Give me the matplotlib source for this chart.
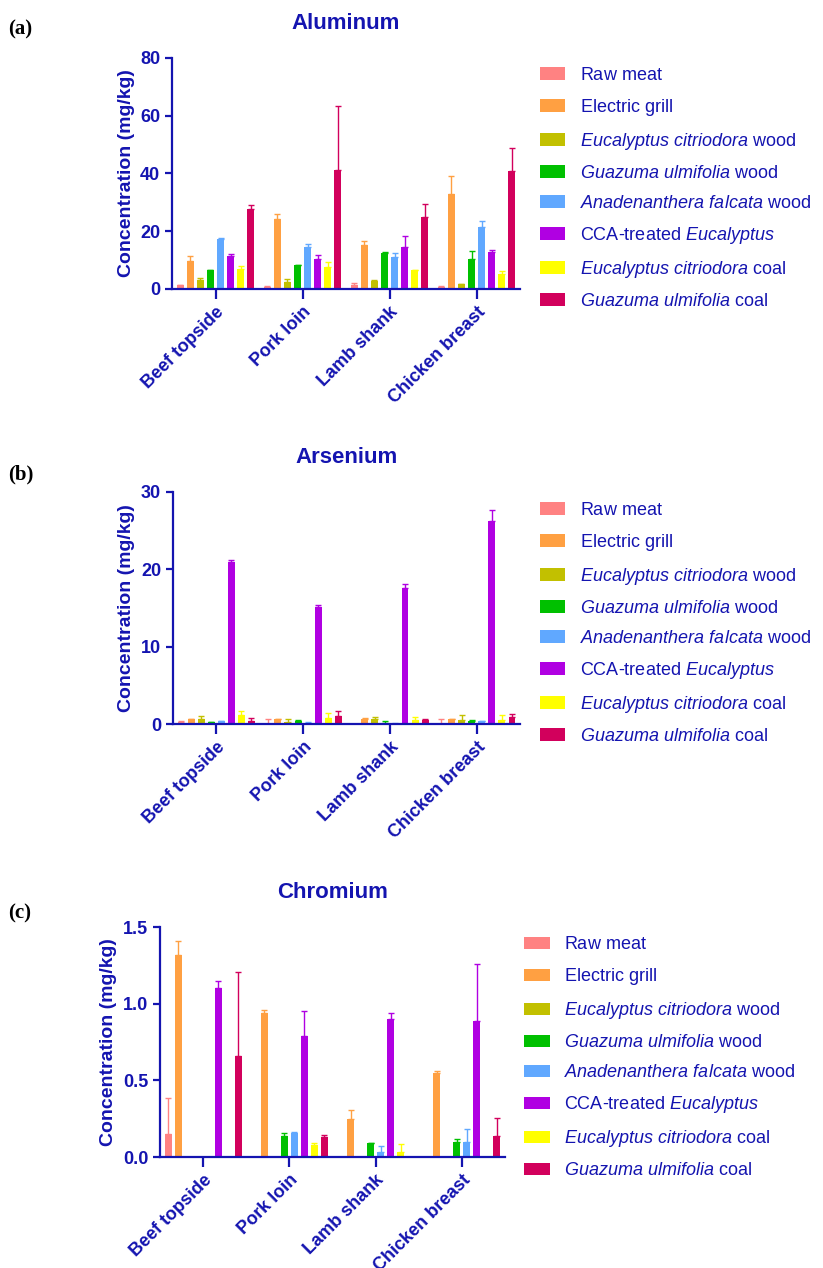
import numpy as np
import matplotlib
matplotlib.use("Agg")
import matplotlib.pyplot as plt
from matplotlib.patches import Patch

plt.rcParams['font.family'] = ['Liberation Sans', 'DejaVu Sans']
plt.rcParams['mathtext.fontset'] = 'custom'
plt.rcParams['mathtext.rm'] = 'Liberation Sans'
plt.rcParams['mathtext.it'] = 'Liberation Sans:italic'
plt.rcParams['mathtext.bf'] = 'Liberation Sans:bold'

BLUE = '#1414b0'

categories = ['Beef topside', 'Pork loin', 'Lamb shank', 'Chicken breast']
series = [
    r'$\mathrm{Raw\ meat}$',
    r'$\mathrm{Electric\ grill}$',
    r'$\mathit{Eucalyptus\ citriodora}\ \mathrm{wood}$',
    r'$\mathit{Guazuma\ ulmifolia}\ \mathrm{wood}$',
    r'$\mathit{Anadenanthera\ falcata}\ \mathrm{wood}$',
    r'$\mathrm{CCA}$-$\mathrm{treated}\ \mathit{Eucalyptus}$',
    r'$\mathit{Eucalyptus\ citriodora}\ \mathrm{coal}$',
    r'$\mathit{Guazuma\ ulmifolia}\ \mathrm{coal}$',
]
colors = ['#ff8282', '#ffa042', '#c2c000', '#00c000', '#60a8ff',
          '#b000e2', '#ffff00', '#d2005c']

# rows = series, columns = categories
al_mean = np.array([
    [1.3, 0.8, 1.5, 0.7],
    [9.6, 24.1, 15.2, 33.0],
    [3.1, 2.5, 2.8, 1.6],
    [6.4, 8.2, 12.6, 10.5],
    [17.4, 14.7, 11.2, 21.4],
    [11.4, 10.5, 14.4, 12.7],
    [7.0, 7.6, 6.4, 5.2],
    [27.7, 41.3, 24.9, 40.8],
])
al_sd = np.array([
    [0.2, 0.1, 0.6, 0.2],
    [1.7, 1.9, 1.3, 6.0],
    [0.6, 0.8, 0.2, 0.2],
    [0.2, 0.2, 0.2, 2.7],
    [0.3, 0.8, 1.2, 2.3],
    [0.7, 1.4, 3.8, 0.8],
    [0.9, 1.8, 0.2, 1.0],
    [1.4, 22.0, 4.5, 7.9],
])

as_mean = np.array([
    [0.3, 0.05, 0.0, 0.05],
    [0.65, 0.6, 0.7, 0.65],
    [0.65, 0.3, 0.7, 0.5],
    [0.26, 0.45, 0.15, 0.45],
    [0.35, 0.15, 0.05, 0.35],
    [21.0, 15.1, 17.6, 26.2],
    [1.2, 0.8, 0.5, 0.55],
    [0.45, 1.05, 0.55, 0.95],
])
as_sd = np.array([
    [0.05, 0.6, 0.0, 0.6],
    [0.05, 0.05, 0.05, 0.05],
    [0.4, 0.3, 0.15, 0.65],
    [0.05, 0.05, 0.25, 0.05],
    [0.05, 0.05, 0.05, 0.05],
    [0.2, 0.3, 0.5, 1.5],
    [0.5, 0.65, 0.35, 0.6],
    [0.35, 0.65, 0.05, 0.35],
])

cr_mean = np.array([
    [0.152, 0.0, 0.0, 0.0],
    [1.32, 0.94, 0.247, 0.548],
    [0.0, 0.0, 0.0, 0.0],
    [0.0, 0.14, 0.091, 0.10],
    [0.0, 0.16, 0.03, 0.10],
    [1.10, 0.79, 0.90, 0.89],
    [0.01, 0.08, 0.03, 0.0],
    [0.66, 0.13, 0.0, 0.139],
])
cr_sd = np.array([
    [0.236, 0.0, 0.0, 0.0],
    [0.09, 0.02, 0.063, 0.013],
    [0.0, 0.0, 0.0, 0.0],
    [0.0, 0.02, 0.002, 0.02],
    [0.0, 0.005, 0.04, 0.08],
    [0.05, 0.16, 0.04, 0.37],
    [0.0, 0.013, 0.052, 0.0],
    [0.55, 0.017, 0.0, 0.115],
])

panels = [
    ('(a)', 'Aluminum', al_mean, al_sd, [0, 20, 40, 60, 80], '{:.0f}',
     [0.209, 0.7721, 0.423, 0.1822], 0.9475, 0.9765),
    ('(b)', 'Arsenium', as_mean, as_sd, [0, 10, 20, 30], '{:.0f}',
     [0.210, 0.4290, 0.422, 0.1830], 0.6040, 0.6260),
    ('(c)', 'Chromium', cr_mean, cr_sd, [0.0, 0.5, 1.0, 1.5], '{:.1f}',
     [0.1944, 0.0875, 0.4192, 0.1814], 0.2615, 0.2797),
]
legend_x = [0.656, 0.656, 0.637]

fig = plt.figure(figsize=(8.23, 12.68), dpi=100)
x = np.arange(len(categories))
pitch = 0.116
width = 0.08

for k, (tag, title, mean, sd, yticks, fmt, rect, leg_top, tag_y) in enumerate(panels):
    ax = fig.add_axes(rect)
    for i in range(len(series)):
        pos = x + (i - 3.5) * pitch
        ax.bar(pos, mean[i], width, color=colors[i], zorder=2)
        m = sd[i] > 0
        if m.any():
            ax.errorbar(pos[m], mean[i][m],
                        yerr=[np.zeros(m.sum()), sd[i][m]],
                        fmt='none', ecolor=colors[i], elinewidth=1.0,
                        capsize=2, capthick=1.0, zorder=1)
    ax.set_xlim(-0.5, 3.5)
    ax.set_ylim(yticks[0], yticks[-1])
    ax.set_yticks(yticks)
    ax.set_yticklabels([fmt.format(v) for v in yticks])
    ax.set_xticks(x)
    ax.set_xticklabels(categories, rotation=45, ha='right', rotation_mode='anchor')
    for s in ['top', 'right']:
        ax.spines[s].set_visible(False)
    for s in ['left', 'bottom']:
        ax.spines[s].set_color(BLUE)
        ax.spines[s].set_linewidth(1.6)
    ax.tick_params(axis='y', colors=BLUE, length=5, width=1.6, labelsize=13)
    ax.tick_params(axis='x', colors=BLUE, length=7, width=1.6, labelsize=13)
    for lab in ax.get_xticklabels() + ax.get_yticklabels():
        lab.set_fontweight('bold')
    ax.set_ylabel('Concentration (mg/kg)', color=BLUE, fontsize=14,
                  fontweight='bold', labelpad=4)
    ax.set_title(title, color=BLUE, fontsize=16, fontweight='bold', pad=21)

    handles = [Patch(facecolor=c) for c in colors]
    fig.legend(handles, series, loc='upper left',
               bbox_to_anchor=(legend_x[k], leg_top), frameon=False,
               fontsize=13, labelcolor=BLUE, handlelength=1.4,
               handleheight=0.7, handletextpad=0.8, labelspacing=0.72,
               borderaxespad=0, borderpad=0)

    fig.text(0.010, tag_y, tag, fontsize=15, family='Liberation Serif',
             fontweight='bold', va='center', ha='left')

fig.savefig('out.png', dpi=100)
